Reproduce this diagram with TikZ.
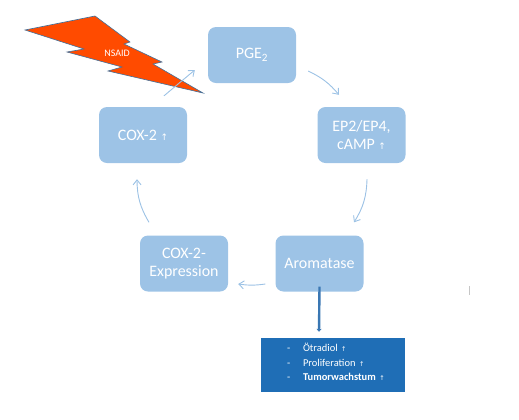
\documentclass[tikz,border=0pt]{standalone}
\usepackage{fontspec}
\setmainfont{Carlito}
\newfontfamily\symf{DejaVu Sans}
\usetikzlibrary{arrows.meta,calc}
\definecolor{boxblue}{HTML}{9DC3E6}
\definecolor{linkblue}{HTML}{9CC2E5}
\definecolor{darkblue}{HTML}{1F6EB6}
\definecolor{thickblue}{HTML}{3A77B3}
\definecolor{boltred}{HTML}{FF4B00}
\definecolor{boltedge}{HTML}{41719C}
\newcommand{\myup}{{\symf\fontsize{9}{9}\selectfont ↑}}
\newcommand{\myupsmall}{{\symf\fontsize{6.5}{6.5}\selectfont ↑}}
\tikzset{
  stepbox/.style={fill=boxblue, rounded corners=8bp, minimum width=88bp,
    minimum height=56bp, text=white, font=\fontsize{16}{18}\selectfont,
    align=center, inner sep=0pt},
  cyc/.style={draw=linkblue, line width=0.9bp,
    -{Straight Barb[length=5bp,width=8bp]}},
  thick arrow/.style={draw=thickblue, line width=2.4bp,
    -{Triangle[length=3bp,width=5bp]}},
}
\begin{document}
\begin{tikzpicture}[x=1bp,y=-1bp]
\useasboundingbox (0,0) rectangle (519,419);
% lightning bolt
\draw[fill=boltred, draw=boltedge, line width=0.6bp, line join=miter]
  (25,30) -- (95,16) -- (130,42) -- (124,44) -- (162,62) -- (153,64)
  -- (203,93) -- (108,71) -- (122,67) -- (67,52) -- (84,49) -- cycle;
\node[text=white, font=\fontsize{10}{10}\selectfont, inner sep=0pt] (nsaid) at (117,53) {NSAID};
% boxes
\node[stepbox] (pge) at (252,55) {PGE\textsubscript{2}};
\node[stepbox] (ep) at (361.5,135) {EP2/EP4,\\cAMP \myup};
\node[stepbox] (arom) at (319.5,263.5) {Aromatase};
\node[stepbox] (cex) at (184,263.5) {COX-2-\\Expression};
\node[stepbox] (cox) at (143,135) {COX-2 \myup};
% cycle arrows
\draw[cyc] ([shift={(21,-11)}]cox.north) -- ([shift={(-13,15)}]pge.west);
\draw[cyc] ([shift={(12,16)}]pge.east) to[bend left=12] ([shift={(-22.5,-12)}]ep.north);
\draw[cyc] ([shift={(5.5,16)}]ep.south) to[bend left=15] ([shift={(34.5,-13)}]arom.north);
\draw[cyc] ([shift={(-10,20.5)}]arom.west) to[bend left=8] ([shift={(10,20.5)}]cex.east);
\draw[cyc] ([shift={(-35,-13)}]cex.north) to[bend left=15] ([shift={(-6,16)}]cox.south);
% result box
\node[fill=darkblue, minimum width=144bp, minimum height=54bp, inner sep=0pt,
  text width=144bp, align=left, text=white,
  font=\fontsize{10.5}{14.5}\selectfont] (res) at (333,365)
  {\hspace*{26bp}\makebox[16bp][l]{-}Ötradiol \myupsmall\\
   \hspace*{26bp}\makebox[16bp][l]{-}Proliferation \myupsmall\\
   \hspace*{26bp}\makebox[16bp][l]{-}\textbf{Tumorwachstum} \myupsmall\\[-8.5bp]\mbox{}};
\draw[thick arrow] ([yshift=5]arom.south) -- ([shift={(-14,-6)}]res.north);
% small tick mark
\draw[gray!45, line width=0.8bp] (469,286) -- (469,295);
\end{tikzpicture}
\end{document}
